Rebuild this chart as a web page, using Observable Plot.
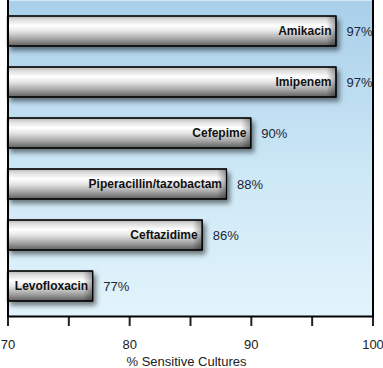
<!DOCTYPE html>
<html><head><meta charset="utf-8">
<script src="https://cdn.jsdelivr.net/npm/d3@7"></script>
<script src="https://cdn.jsdelivr.net/npm/@observablehq/plot@0.6"></script>
<style>
html,body{margin:0;padding:0;background:#fff;}
svg{font-family:"Liberation Sans",Arial,sans-serif;}
</style>
</head><body>
<div id="chart"></div>
<script>
const drugs = ["Amikacin","Imipenem","Cefepime","Piperacillin/tazobactam","Ceftazidime","Levofloxacin"];
const sensitive = [97,97,90,88,86,77];
const tickValues = [70,75,80,85,90,95,100];
const tickLabels = ["70","","80","","90","","100"];
const axisTitle = "% Sensitive Cultures";

const data = drugs.map((d,i)=>({drug:d, value:sensitive[i]}));

const defs = () => {
  const s = d3.create("svg:defs");
  const bg = s.append("linearGradient").attr("id","bgGrad").attr("x1",0).attr("y1",0).attr("x2",0).attr("y2",1);
  bg.append("stop").attr("offset","0%").attr("stop-color","#a9cfea");
  bg.append("stop").attr("offset","55%").attr("stop-color","#cde8f6");
  bg.append("stop").attr("offset","100%").attr("stop-color","#e2f4fb");
  const sv = s.append("linearGradient").attr("id","silver").attr("x1",0).attr("y1",0).attr("x2",0).attr("y2",1);
  [["0%","#b5b5b5"],["12%","#dcdcdc"],["32%","#ffffff"],["50%","#e6e6e6"],["75%","#a8a8a8"],["100%","#5e5e5e"]]
    .forEach(([o,c])=>sv.append("stop").attr("offset",o).attr("stop-color",c));
  const es = s.append("linearGradient").attr("id","endShade").attr("x1",0).attr("y1",0).attr("x2",1).attr("y2",0);
  es.append("stop").attr("offset","0%").attr("stop-color","#000").attr("stop-opacity",0);
  es.append("stop").attr("offset","100%").attr("stop-color","#000").attr("stop-opacity",0.35);
  const f = s.append("filter").attr("id","shadow").attr("x","-10%").attr("y","-30%").attr("width","130%").attr("height","180%");
  f.append("feDropShadow").attr("dx",3).attr("dy",4).attr("stdDeviation",2.5).attr("flood-color","#000").attr("flood-opacity",0.5);
  return s.node();
};

const plot = Plot.plot({
  width: 383,
  height: 368,
  marginTop: 0,
  marginBottom: 52,
  marginLeft: 7.5,
  marginRight: 10.5,
  style: {fontFamily: "'Liberation Sans', Arial, sans-serif", fontSize: "13px", color: "#222", background: "transparent", overflow: "visible"},
  x: {domain: [70,100]},
  y: {domain: drugs, paddingInner: 0.42, paddingOuter: 0.3, axis: null},
  marks: [
    defs,
    Plot.frame({fill: "url(#bgGrad)", stroke: null}),
    Plot.barX(data, {y: "drug", x1: 70, x2: "value", fill: "url(#silver)", stroke: "#000", strokeWidth: 1}),
    Plot.barX(data, {y: "drug", x1: d => d.value - 0.8, x2: "value", fill: "url(#endShade)"}),
    Plot.barX(data, {y: "drug", x1: 70, x2: "value", fill: "none", stroke: "#000", strokeWidth: 1.2}),
    Plot.text(data, {y: "drug", x: "value", text: "drug", textAnchor: "end", dx: -5, fontWeight: "bold", fontSize: 12, fill: "#111"}),
    Plot.text(data, {y: "drug", x: "value", text: d => d.value + "%", textAnchor: "start", dx: 10, fontSize: 13, fill: "#1c2636"}),
    Plot.ruleX([70,100], {stroke: "#000", strokeWidth: 2}),
    Plot.axisX({ticks: tickValues, tickSize: 10, tickPadding: 13, tickFormat: d => tickLabels[tickValues.indexOf(d)], strokeWidth: 2, fontSize: 13, label: null, color: "#222"}),
    Plot.text([axisTitle], {frameAnchor: "bottom", dy: 49, fontSize: 13, fill: "#222", dx: -4}),
    Plot.frame({anchor: "bottom", stroke: "#000", strokeWidth: 2})
  ]
});
const bars = plot.querySelectorAll("g[aria-label='bar']");
if (bars[0]) bars[0].setAttribute("filter","url(#shadow)");
document.getElementById("chart").append(plot);
</script>
</body></html>
